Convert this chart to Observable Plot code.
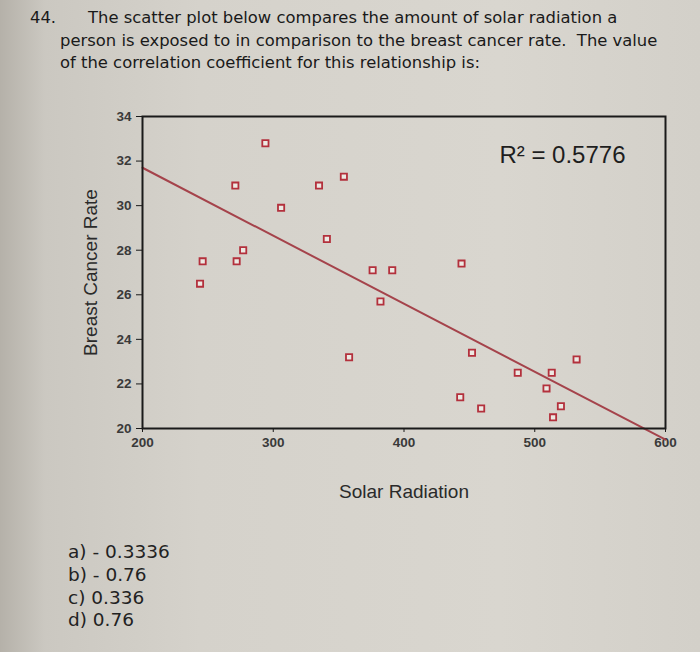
<!DOCTYPE html>
<html>
<head>
<meta charset="utf-8">
<script src="https://cdn.jsdelivr.net/npm/d3@7"></script>
<script src="https://cdn.jsdelivr.net/npm/@observablehq/plot@0.6"></script>
<style>
  html, body { margin: 0; padding: 0; }
  body {
    width: 700px; height: 652px; overflow: hidden; position: relative;
    background: linear-gradient(90deg, #b5b1a9 0px, #cbc8c1 45px, #d5d2cb 200px, #d9d6cf 500px, #d3d0c9 700px);
    font-family: "DejaVu Sans", Verdana, sans-serif; color: #1a1a1a;
  }
  .t { position: absolute; font-size: 16.4px; white-space: nowrap; }
  .a { position: absolute; left: 68px; font-size: 18.5px; white-space: nowrap; color: #222; }
  #chart { position: absolute; left: 0; top: 100px; }
</style>
</head>
<body>
<div class="t" style="left:30px; top:8px;">44.</div>
<div class="t" style="left:88px; top:8px;">The scatter plot below compares the amount of solar radiation a</div>
<div class="t" style="left:60px; top:31px;">person is exposed to in comparison to the breast cancer rate.&nbsp; The value</div>
<div class="t" style="left:60px; top:53px;">of the correlation coefficient for this relationship is:</div>
<div id="chart"></div>
<div class="a" style="top:541px;">a) - 0.3336</div>
<div class="a" style="top:564px;">b) - 0.76</div>
<div class="a" style="top:587px;">c) 0.336</div>
<div class="a" style="top:609px;">d) 0.76</div>
<script>
// Data
const radiation  = [294, 271, 306, 335, 354, 341, 246, 244, 272, 277, 376, 391, 382, 358,
                    444, 452, 487, 513, 532, 509, 443, 459, 520, 514];
const cancerRate = [32.8, 30.9, 29.9, 30.9, 31.3, 28.5, 27.5, 26.5, 27.5, 28.0, 27.1, 27.1, 25.7, 23.2,
                    27.4, 23.4, 22.5, 22.5, 23.1, 21.8, 21.4, 20.9, 21.0, 20.5];
const trendX = [200, 600];
const trendY = [31.7, 19.5];
const xTicks = [200, 300, 400, 500, 600];
const yTicks = [20, 22, 24, 26, 28, 30, 32, 34];
const rSquaredLabel = "R\u00B2 = 0.5776";
const xLabel = "Solar Radiation";
const yLabel = "Breast Cancer Rate";

const points = radiation.map((x, i) => ({x, y: cancerRate[i]}));
const trend = trendX.map((x, i) => ({x, y: trendY[i]}));

const chart = Plot.plot({
  width: 700,
  height: 400,
  marginTop: 16,
  marginBottom: 72,
  marginLeft: 142,
  marginRight: 35,
  style: {background: "transparent", fontFamily: "'Liberation Sans', Arial, sans-serif", overflow: "visible"},
  x: {domain: [200, 600]},
  y: {domain: [20, 34]},
  marks: [
    Plot.axisX({ticks: xTicks, tickSize: 4, tickPadding: 5, fontSize: 13.5, fontWeight: "bold", fill: "#3a3a3a", stroke: "#1a1a1a", label: null}),
    Plot.axisY({ticks: yTicks, tickSize: 6, tickPadding: 5, fontSize: 13.5, fontWeight: "bold", fill: "#3a3a3a", stroke: "#1a1a1a", label: null}),
    Plot.line(trend, {x: "x", y: "y", stroke: "#a5434b", strokeWidth: 2}),
    Plot.frame({stroke: "#1a1a1a", strokeWidth: 2}),
    Plot.dot(points, {x: "x", y: "y", symbol: "square", r: 3.5, stroke: "#b3303c", fill: "#ece9e3", strokeWidth: 1.8}),
    Plot.text([rSquaredLabel], {frameAnchor: "top-right", dx: -40, dy: 29, fontSize: 24, textAnchor: "end", fill: "#1e1e1e"}),
    Plot.text([xLabel], {frameAnchor: "bottom", dy: 69, fontSize: 19, fill: "#2a2a2a"}),
    Plot.text([yLabel], {frameAnchor: "left", dx: -52, rotate: -90, textAnchor: "middle", fontSize: 19, fill: "#2a2a2a"})
  ]
});
document.getElementById("chart").appendChild(chart);
</script>
</body>
</html>
